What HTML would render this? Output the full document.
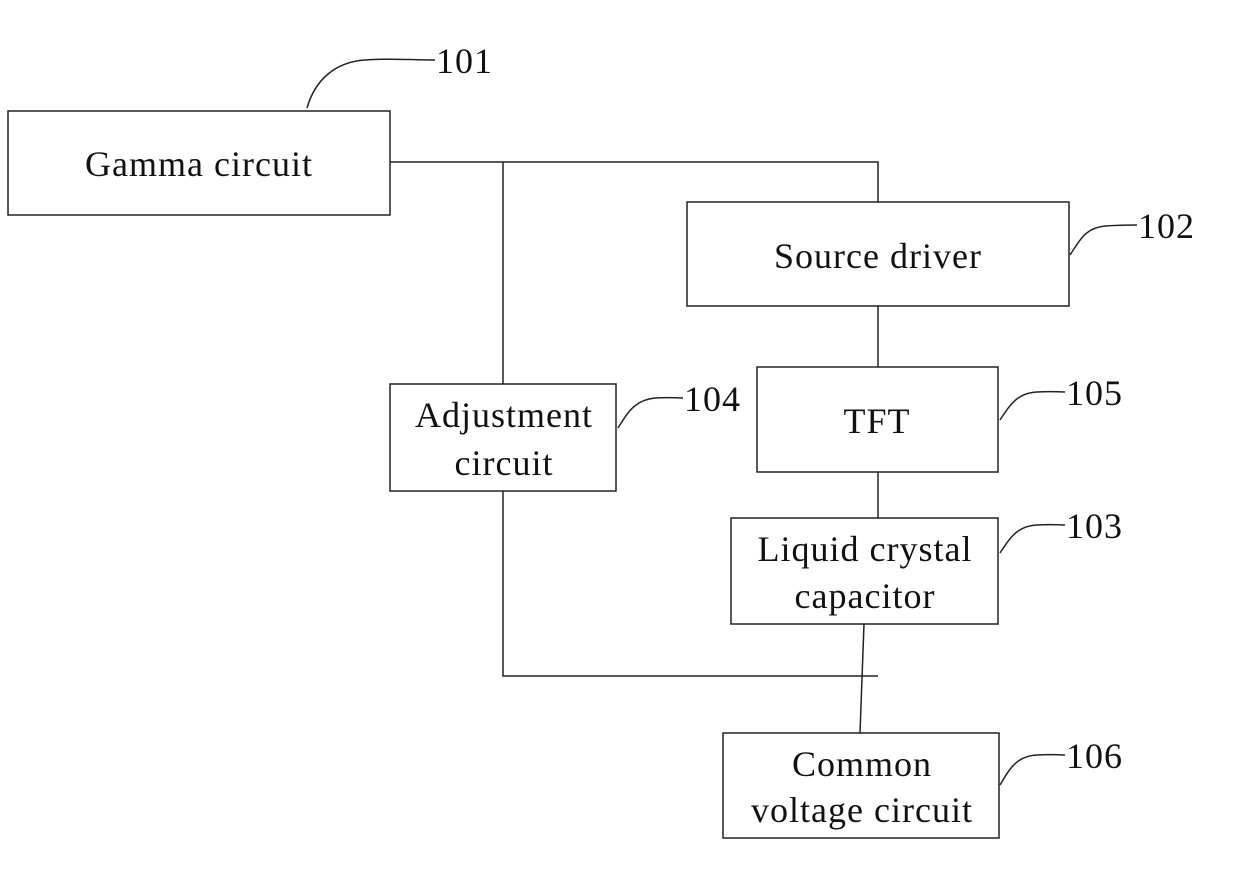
<!DOCTYPE html>
<html><head><meta charset="utf-8"><style>
html,body{margin:0;padding:0;background:#fff;}
svg{display:block;}
text{font-family:"Liberation Serif",serif;font-size:36px;letter-spacing:1px;fill:#111;}
</style></head><body>
<svg width="1240" height="891" viewBox="0 0 1240 891" xmlns="http://www.w3.org/2000/svg">
<g fill="none" stroke="#222" stroke-width="1.5">
<rect x="8" y="111" width="382" height="104"/>
<rect x="687" y="202" width="382" height="104"/>
<rect x="390" y="384" width="226" height="107"/>
<rect x="757" y="367" width="241" height="105"/>
<rect x="731" y="518" width="267" height="106"/>
<rect x="723" y="733" width="276" height="105"/>
<path d="M390 162 H878 V202"/>
<path d="M503 162 V384"/>
<path d="M878 306 V367"/>
<path d="M878 472 V518"/>
<path d="M503 491 V676 H878"/>
<path d="M864 624 L860 733"/>
<path d="M307 108 C315 80 335 62 365 60 C390 58 410 60 435 60"/>
<path d="M1070 255 C1080 240 1085 228 1105 226 C1120 225 1128 225 1137 225"/>
<path d="M618 428 C628 412 635 400 655 398 C670 397 676 398 683 398"/>
<path d="M1000 420 C1010 405 1017 393 1037 392 C1052 391 1058 392 1065 392"/>
<path d="M1000 553 C1010 538 1017 526 1037 525 C1052 524 1058 525 1065 525"/>
<path d="M1000 785 C1010 768 1017 756 1037 755 C1052 754 1058 755 1065 755"/>
</g>
<text x="199" y="176" text-anchor="middle">Gamma circuit</text>
<text x="878" y="268" text-anchor="middle">Source driver</text>
<text x="504" y="427" text-anchor="middle">Adjustment</text>
<text x="504" y="475" text-anchor="middle">circuit</text>
<text x="877" y="433" text-anchor="middle">TFT</text>
<text x="865" y="561" text-anchor="middle">Liquid crystal</text>
<text x="865" y="608" text-anchor="middle">capacitor</text>
<text x="862" y="776" text-anchor="middle">Common</text>
<text x="862" y="822" text-anchor="middle">voltage circuit</text>
<text x="436" y="73">101</text>
<text x="1138" y="238">102</text>
<text x="684" y="411">104</text>
<text x="1066" y="405">105</text>
<text x="1066" y="538">103</text>
<text x="1066" y="768">106</text>
</svg>
</body></html>
